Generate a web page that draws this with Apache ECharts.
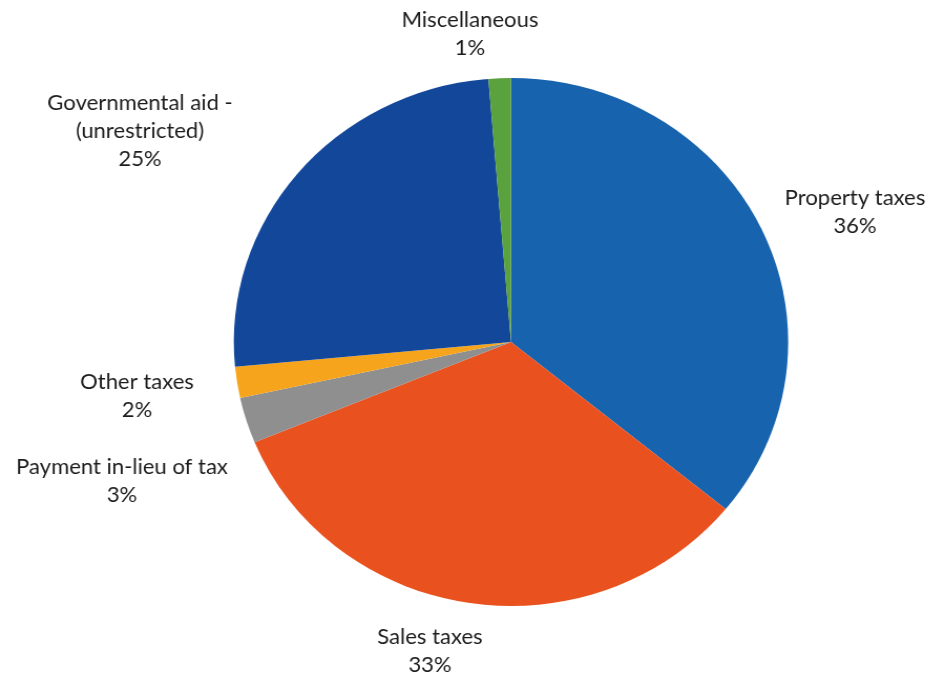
<!DOCTYPE html>
<html>
<head>
<meta charset="utf-8">
<script src="https://cdn.jsdelivr.net/npm/echarts@6/dist/echarts.min.js"></script>
<style>
  html, body { margin: 0; padding: 0; background: #ffffff; overflow: hidden; }
  #wrap { width: 932px; height: 675px; overflow: hidden; }
  /* the pie is drawn slightly wider than tall */
  #chart { width: 888px; height: 675px; transform: scaleX(1.05); transform-origin: 0 0; }
</style>
</head>
<body>
<div id="wrap"><div id="chart"></div></div>
<script>
// Revenue sources, share of total (%)
const categories = [
  'Property taxes',
  'Sales taxes',
  'Payment in-lieu of tax',
  'Other taxes',
  'Governmental aid -\n(unrestricted)',
  'Miscellaneous'
];
const shares = [35.9, 32.9, 2.8, 1.9, 25.2, 1.3];
const colors = ['#1763AE', '#E9521F', '#8F8F8F', '#F5A41C', '#12479A', '#5AA23E'];

// label anchor points (page coordinates, centre of the text block)
const labelSpots = [
  [855, 212],
  [430, 651],
  [122, 481],
  [137, 396],
  [140, 131],
  [470, 34]
];
const sx = 1.05;

const chart = echarts.init(document.getElementById('chart'), null, { renderer: 'canvas' });

chart.setOption({
  animation: false,
  series: [{
    type: 'pie',
    center: [511 / sx, 342],
    radius: 264,
    startAngle: 90,
    clockwise: true,
    avoidLabelOverlap: false,
    label: {
      show: true,
      position: 'outside',
      fontFamily: 'Lato, "Open Sans", sans-serif',
      fontSize: 21,
      color: '#1c1c1c',
      lineHeight: 28,
      align: 'center',
      formatter: p => p.name + '\n' + Math.round(p.percent) + '%'
    },
    labelLine: { show: false },
    labelLayout: params => {
      const s = labelSpots[params.dataIndex];
      return {
        x: s[0] / sx,
        y: s[1],
        align: 'center',
        verticalAlign: 'middle'
      };
    },
    itemStyle: { borderWidth: 0 },
    data: categories.map((c, i) => ({
      name: c,
      value: shares[i],
      itemStyle: { color: colors[i] }
    }))
  }]
});
</script>
</body>
</html>
